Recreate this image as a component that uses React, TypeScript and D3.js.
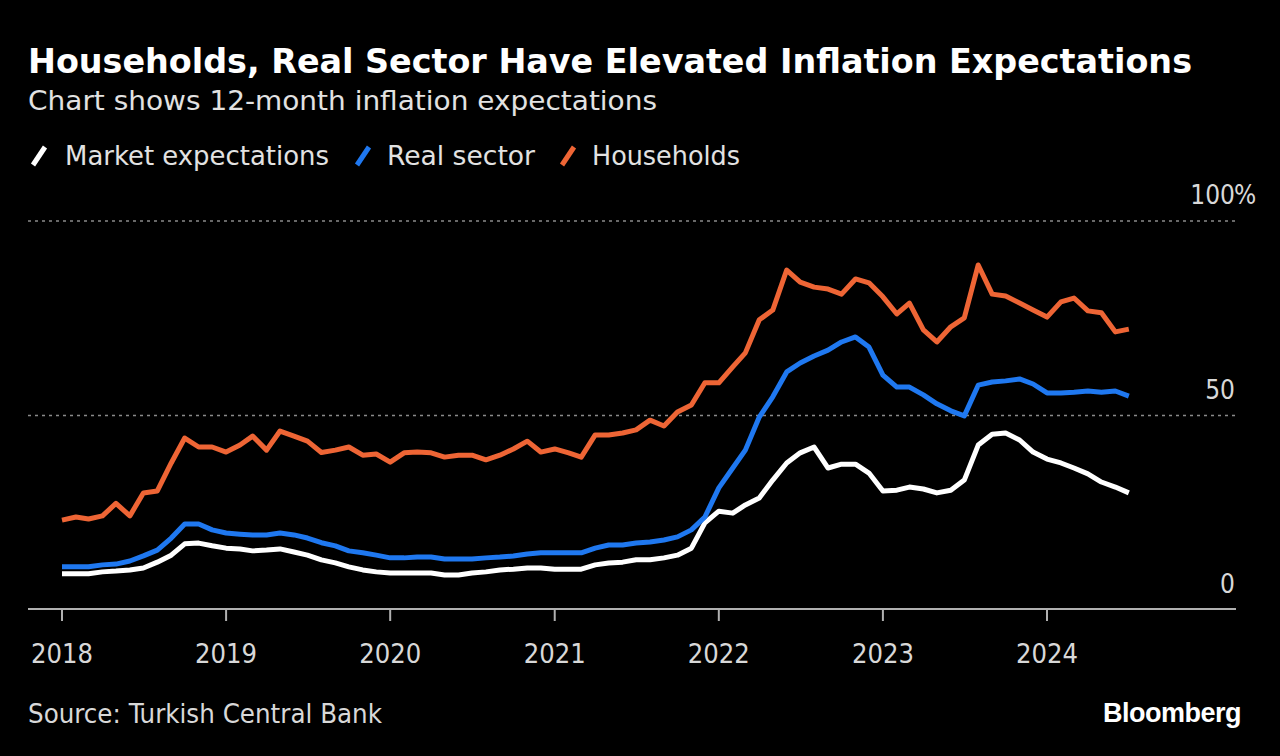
import React from "react";
import * as d3 from "d3";

const startYear = 2018;
const startMonth = 0; // January 2018, monthly observations

const households = [
  23.1, 23.9, 23.4, 24.2, 27.4, 24.2, 30.1, 30.6, 37.8, 44.2, 41.9, 41.9,
  40.6, 42.4, 44.7, 41.1, 46.0, 44.7, 43.4, 40.5, 41.1, 41.9, 39.8, 40.1,
  38.0, 40.4, 40.6, 40.4, 39.3, 39.8, 39.8, 38.6, 39.8, 41.4, 43.4, 40.6,
  41.4, 40.4, 39.3, 45.0, 45.0, 45.5, 46.3, 48.8, 47.3, 50.9, 52.7, 58.4,
  58.4, 62.5, 66.1, 74.6, 77.1, 87.4, 84.3, 83.0, 82.5, 81.2, 85.1, 84.1,
  80.5, 76.1, 78.9, 72.0, 68.9, 72.8, 75.1, 88.7, 81.2, 80.7, 78.9, 77.1,
  75.3, 79.2, 80.2, 76.9, 76.4, 71.5, 72.2,
];

const realSector = [
  11.1, 11.1, 11.1, 11.6, 11.8, 12.6, 13.9, 15.4, 18.5, 22.1, 22.1, 20.6,
  19.8, 19.5, 19.3, 19.3, 19.8, 19.3, 18.5, 17.3, 16.5, 15.2, 14.7, 14.1,
  13.4, 13.4, 13.6, 13.6, 13.1, 13.1, 13.1, 13.4, 13.6, 13.9, 14.4, 14.7,
  14.7, 14.7, 14.7, 15.9, 16.7, 16.7, 17.2, 17.5, 18.0, 18.8, 20.6, 23.9,
  31.4, 36.5, 41.1, 49.6, 54.8, 61.2, 63.5, 65.3, 66.8, 68.9, 70.2, 67.6,
  60.4, 57.3, 57.3, 55.3, 53.0, 51.2, 49.9, 57.8, 58.6, 58.9, 59.4, 58.1,
  55.8, 55.8, 56.0, 56.3, 56.0, 56.3, 55.0,
];

const market = [
  9.3, 9.3, 9.3, 9.8, 10.0, 10.3, 10.8, 12.3, 14.1, 17.0, 17.2, 16.5,
  15.9, 15.7, 15.2, 15.4, 15.7, 14.9, 14.1, 12.9, 12.1, 11.1, 10.3, 9.8,
  9.5, 9.5, 9.5, 9.5, 9.0, 9.0, 9.5, 9.8, 10.3, 10.5, 10.8, 10.8,
  10.5, 10.5, 10.5, 11.6, 12.1, 12.3, 12.9, 12.9, 13.4, 14.1, 15.9, 22.4,
  25.4, 24.9, 27.0, 28.8, 33.4, 37.8, 40.4, 41.9, 36.5, 37.5, 37.5, 35.2,
  30.6, 30.8, 31.6, 31.1, 30.1, 30.8, 33.4, 42.4, 45.2, 45.5, 43.7, 40.6,
  38.8, 37.8, 36.5, 35.0, 32.9, 31.6, 30.1,
];

const yearTicks = [2018, 2019, 2020, 2021, 2022, 2023, 2024];
const yTicks = [0, 50, 100];

const seriesList = [
  { name: "Market expectations", values: market, color: "#ffffff" },
  { name: "Real sector", values: realSector, color: "#1f78f0" },
  { name: "Households", values: households, color: "#ee6535" },
];

const FONT = "'DejaVu Sans Condensed', 'DejaVu Sans', sans-serif";

export default function App() {
  const W = 1280;
  const H = 756;
  const x = d3
    .scaleTime()
    .domain([new Date(2018, 0, 1), new Date(2024, 0, 1)])
    .range([62, 1047]);
  const y = d3.scaleLinear().domain([0, 100]).range([610, 221]);
  const dateOf = (i: number) => new Date(startYear, startMonth + i, 1);

  const line = d3
    .line<number>()
    .x((_, i) => x(dateOf(i)))
    .y((d) => y(d));

  const legendItems = [
    { slashX: 33, textX: 65, w: 264 },
    { slashX: 357, textX: 387, w: 148 },
    { slashX: 562, textX: 592, w: 148 },
  ];

  return (
    <svg
      width={W}
      height={H}
      style={{ position: "absolute", left: 0, top: 0, background: "#000" }}
      fontFamily={FONT}
    >
      <rect x={0} y={0} width={W} height={H} fill="#000" />
      <text x={28} y={73} fill="#fff" fontSize={34} fontWeight="bold" textLength={1164} lengthAdjust="spacingAndGlyphs">
        Households, Real Sector Have Elevated Inflation Expectations
      </text>
      <text x={28} y={110} fill="#e2e2e2" fontSize={27} textLength={629} lengthAdjust="spacingAndGlyphs">
        Chart shows 12-month inflation expectations
      </text>

      {seriesList.map((s, i) => (
        <g key={s.name}>
          <line
            x1={legendItems[i].slashX}
            y1={165}
            x2={legendItems[i].slashX + 12}
            y2={147}
            stroke={s.color}
            strokeWidth={5}
            strokeLinecap="butt"
          />
          <text x={legendItems[i].textX} y={165} fill="#e2e2e2" fontSize={27} textLength={legendItems[i].w} lengthAdjust="spacingAndGlyphs">
            {s.name}
          </text>
        </g>
      ))}

      {yTicks
        .filter((t) => t > 0)
        .map((t) => (
          <line
            key={t}
            x1={28}
            x2={1236}
            y1={y(t)}
            y2={y(t)}
            stroke="#8a8a8a"
            strokeWidth={1.5}
            strokeDasharray="3,4"
          />
        ))}
      {yTicks.map((t) => (
        <g key={"l" + t}>
          <text x={1235} y={y(t) - 17} fill="#d8d8d8" fontSize={26} textAnchor="end">
            {t}
          </text>
          {t === 100 && (
            <text x={1234} y={y(t) - 17} fill="#d8d8d8" fontSize={26}>
              %
            </text>
          )}
        </g>
      ))}

      <line x1={28} x2={1236} y1={609} y2={609} stroke="#b0b0b0" strokeWidth={2} />
      {yearTicks.map((yr) => {
        const px = x(new Date(yr, 0, 1));
        return (
          <g key={yr}>
            <line x1={px} x2={px} y1={609} y2={621} stroke="#b0b0b0" strokeWidth={2} />
            <text x={px} y={663} fill="#d8d8d8" fontSize={27} textAnchor="middle" textLength={62} lengthAdjust="spacingAndGlyphs">
              {yr}
            </text>
          </g>
        );
      })}

      {seriesList.map((s) => (
        <path
          key={s.name}
          d={line(s.values) || ""}
          fill="none"
          stroke={s.color}
          strokeWidth={5}
          strokeLinejoin="round"
          strokeLinecap="butt"
        />
      ))}

      <text x={28} y={723} fill="#d8d8d8" fontSize={26} textLength={354} lengthAdjust="spacingAndGlyphs">
        Source: Turkish Central Bank
      </text>
      <text x={1241} y={722} fill="#fff" fontSize={27} fontWeight="bold" textAnchor="end" fontFamily="'Liberation Sans', Arial, sans-serif" letterSpacing={-0.5}>
        Bloomberg
      </text>
    </svg>
  );
}
